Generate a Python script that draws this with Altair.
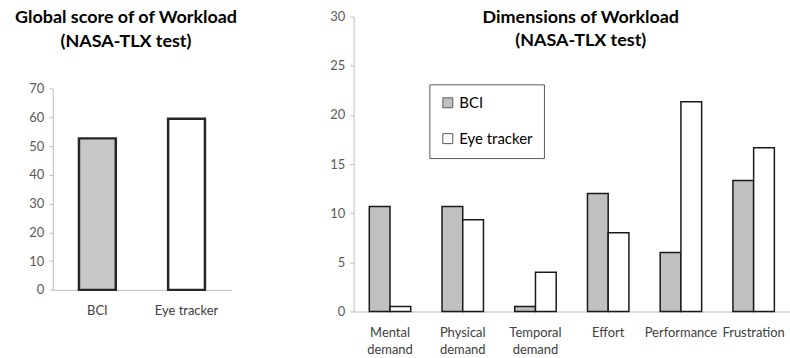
import altair as alt
import pandas as pd

# ---- data ----
series = ["BCI", "Eye tracker"]
global_scores = [52.7, 59.5]
dimensions = ["Mental demand", "Physical demand", "Temporal demand",
              "Effort", "Performance", "Frustration"]
bci_dims = [10.67, 10.67, 0.5, 12.0, 6.0, 13.33]
eye_dims = [0.5, 9.33, 4.0, 8.0, 21.33, 16.67]
left_title = ["Global score of of Workload", "(NASA-TLX test)"]
right_title = ["Dimensions of Workload", "(NASA-TLX test)"]
left_ticks = [0, 10, 20, 30, 40, 50, 60, 70]
right_ticks = [0, 5, 10, 15, 20, 25, 30]

FONT = "Lato"
H = 296
AX = "#bfbfbf"
TICKLAB = "#595959"
CATLAB = "#404040"

df_g = pd.DataFrame({"series": series, "score": global_scores})
rows = []
for d, b, e in zip(dimensions, bci_dims, eye_dims):
    rows.append({"dim": d, "series": series[0], "value": b})
    rows.append({"dim": d, "series": series[1], "value": e})
df_d = pd.DataFrame(rows)
one = pd.DataFrame({"a": [0]})

yaxis_common = dict(title=None, grid=False, domainColor=AX, tickColor=AX, tickSize=4,
                    labelColor=TICKLAB, labelFont=FONT, labelFontSize=13, labelPadding=5)

# ---- left chart ----
left_bars = alt.Chart(df_g).mark_bar(stroke="#262626", strokeWidth=2.5).encode(
    x=alt.X("series:N", sort=series,
            scale=alt.Scale(paddingInner=0.587, paddingOuter=0.2935),
            axis=alt.Axis(title=None, labelAngle=0, ticks=False, domainColor=AX,
                          labelFont=FONT, labelFontSize=13, labelColor=CATLAB,
                          labelPadding=15, offset=-21.7)),
    y=alt.Y("score:Q", scale=alt.Scale(domain=[0, 70], range=[274.3, 72.3], nice=False),
            axis=alt.Axis(values=left_ticks, **yaxis_common)),
    fill=alt.Fill("series:N", scale=alt.Scale(domain=series, range=["#c8c8c8", "#ffffff"]),
                  legend=None),
)
left_tt = alt.Chart(one).mark_text(
    text=left_title, font=FONT, fontSize=18, fontWeight="bold", lineHeight=25,
    baseline="top", align="center", color="#000000"
).encode(x=alt.value(73.5), y=alt.value(-8))
left = alt.layer(left_bars, left_tt).properties(width=179, height=H)

# ---- right chart ----
right_bars = alt.Chart(df_d).mark_bar(stroke="#1a1a1a", strokeWidth=1.5).encode(
    x=alt.X("dim:N", sort=dimensions,
            scale=alt.Scale(paddingInner=0.43, paddingOuter=0.215),
            axis=alt.Axis(title=None, labelAngle=0, ticks=False, domainColor=AX,
                          labelFont=FONT, labelFontSize=13, labelColor=CATLAB,
                          labelPadding=15, labelLineHeight=17,
                          labelExpr="split(datum.label, ' ')")),
    xOffset=alt.XOffset("series:N", sort=series),
    y=alt.Y("value:Q", scale=alt.Scale(domain=[0, 30], nice=False),
            axis=alt.Axis(values=right_ticks, **yaxis_common)),
    fill=alt.Fill("series:N", scale=alt.Scale(domain=series, range=["#c0c0c0", "#ffffff"]),
                  legend=alt.Legend(title=None, orient="none", legendX=76, legendY=68,
                                    strokeColor="#595959", fillColor="#ffffff",
                                    padding=11, rowPadding=20, symbolType="square",
                                    symbolSize=100, symbolStrokeColor="#595959",
                                    symbolStrokeWidth=1, labelFont=FONT, labelFontSize=15,
                                    labelColor="#000000", labelOffset=4)),
)
right_tt = alt.Chart(one).mark_text(
    text=right_title, font=FONT, fontSize=18, fontWeight="bold", lineHeight=24,
    baseline="top", align="center", color="#000000"
).encode(x=alt.value(228), y=alt.value(-8))
right = alt.layer(right_bars, right_tt).properties(width=438, height=H)

chart = alt.hconcat(left, right, spacing=123, bounds="flush").resolve_scale(
    fill="independent").resolve_legend(fill="independent").configure_view(
    stroke=None).properties(padding={"left": 14, "top": 8, "right": 0, "bottom": 0},
                            background="#ffffff")

chart.save("out.html", embed_options={"renderer": "svg", "actions": False})
